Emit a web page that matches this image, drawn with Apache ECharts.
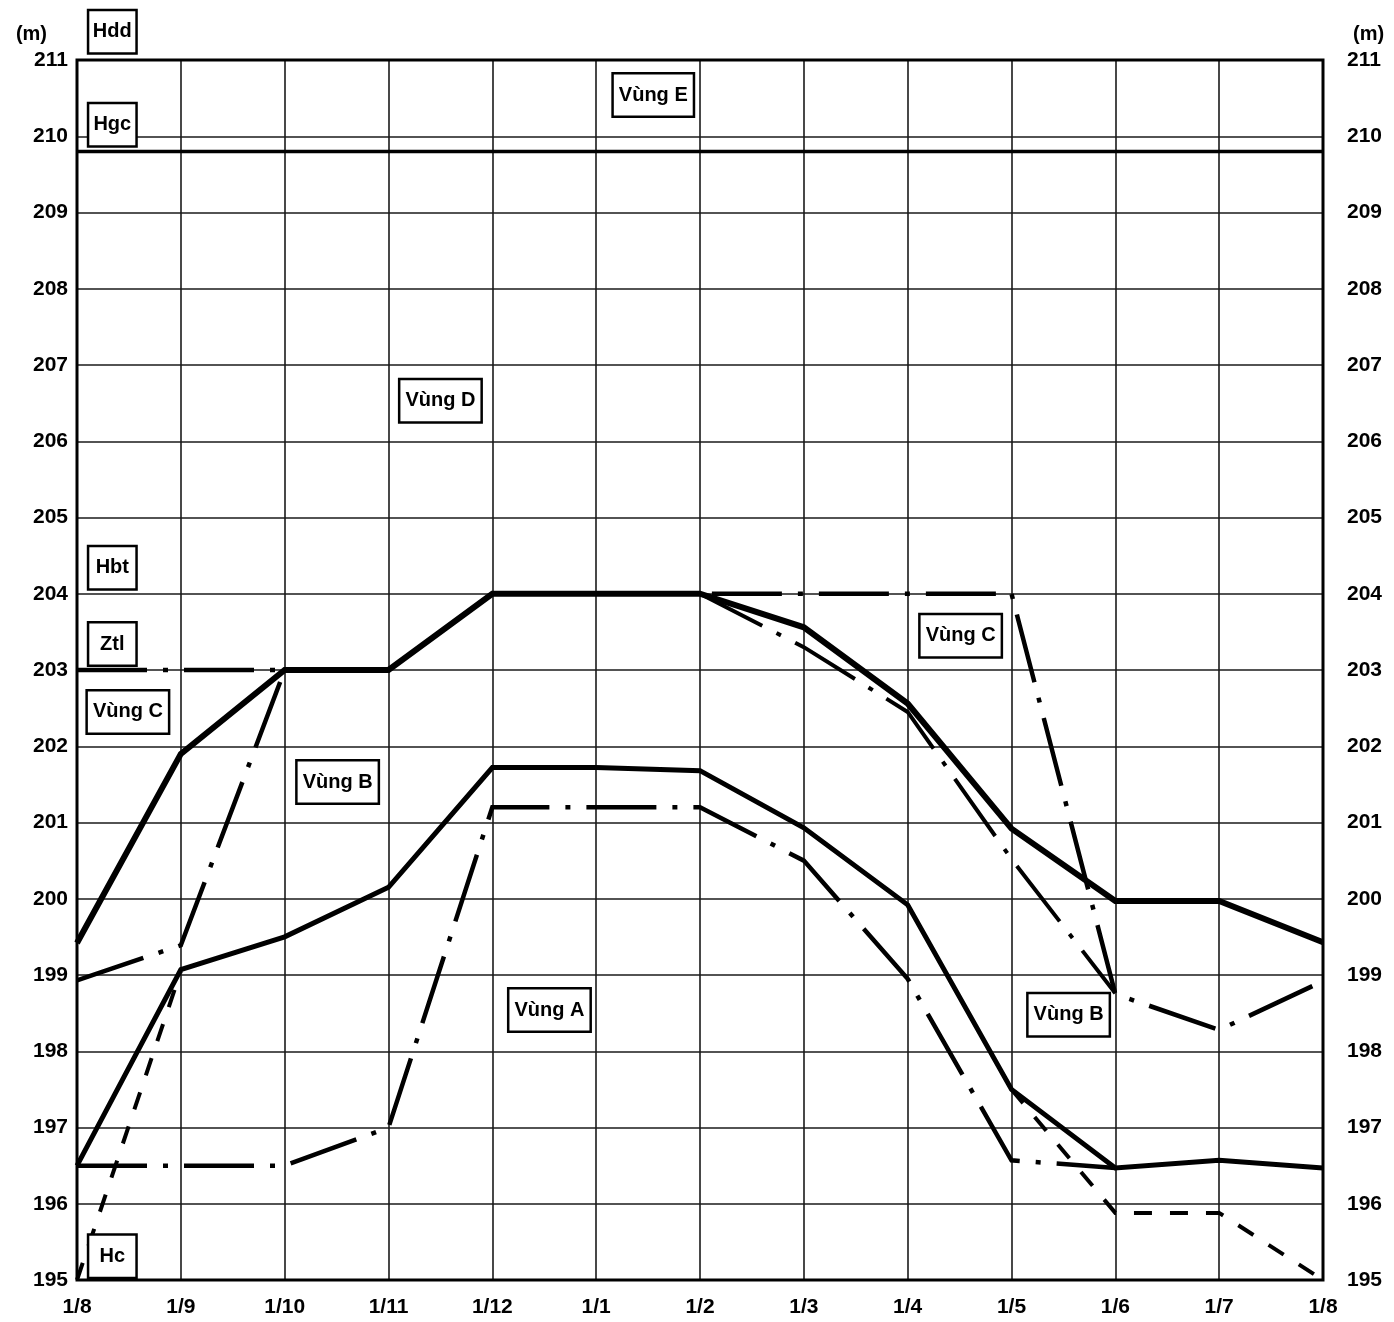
<!DOCTYPE html>
<html>
<head>
<meta charset="utf-8">
<script src="https://cdn.jsdelivr.net/npm/echarts@6/dist/echarts.min.js"></script>
<style>
html,body{margin:0;padding:0;background:#fff;}
#chart{width:1394px;height:1322px;}
</style>
</head>
<body>
<div id="chart"></div>
<script>
// ---- data ----
var xLabels = ['1/8','1/9','1/10','1/11','1/12','1/1','1/2','1/3','1/4','1/5','1/6','1/7','1/8'];
var upperSolid   = [199.42, 201.9, 203.0, 203.0, 204.0, 204.0, 204.0, 203.56, 202.56, 200.92, 199.97, 199.97, 199.43];
var upperDashDot = [198.93, 199.39, 203.0, 203.0, 204.0, 204.0, 204.0, 204.0, 204.0, 204.0, 198.75, 198.28, 198.92];
var ztlDashDot   = [203.0, 203.0, 203.0, null, null, null, null, null, null, null, null, null, null];
var middleDashDot = [null, null, null, null, null, null, 204.0, 203.3, 202.45, 200.52, 198.76, null, null];
var lowerSolid   = [196.5, 199.07, 199.5, 200.15, 201.72, 201.72, 201.68, 200.93, 199.92, 197.5, 196.47, 196.57, 196.47];
var lowerDashDot = [196.5, 196.5, 196.5, 197.0, 201.2, 201.2, 201.2, 200.5, 198.95, 196.57, 196.47, null, null];
var dashedLine   = [195.0, 199.05, null, null, null, null, null, null, null, 197.5, 195.88, 195.88, 195.0];
var hgcLevel     = [209.8, 209.8, 209.8, 209.8, 209.8, 209.8, 209.8, 209.8, 209.8, 209.8, 209.8, 209.8, 209.8];
var yTicks = {min: 195, max: 211, step: 1};
var annotationText = ['Hdd', 'Hgc', 'Vùng E', 'Vùng D', 'Hbt', 'Ztl', 'Vùng C', 'Vùng B', 'Vùng A', 'Vùng C', 'Vùng B', 'Hc'];
var annotationX    = [0.34, 0.34, 5.55, 3.50, 0.34, 0.34, 0.49, 2.51, 4.55, 8.51, 9.55, 0.34];
var annotationY    = [211.37, 210.15, 210.54, 206.53, 204.34, 203.34, 202.45, 201.53, 198.54, 203.45, 198.48, 195.31];

// ---- chart ----
var FONT = 'Liberation Sans';
function withX(arr){ return arr.map(function(v,i){ return [i, v]; }); }

var dashDot = [70, 16, 5, 16];

function lineSeries(data, width, type, z){
  return {
    type: 'line', data: withX(data), symbol: 'none', silent: true,
    connectNulls: false, z: z || 3,
    lineStyle: {color: '#000', width: width, type: type, cap: 'butt', join: 'miter'}
  };
}

var chart = echarts.init(document.getElementById('chart'), null, {renderer: 'canvas'});
var option = {
  animation: false,
  backgroundColor: '#fff',
  grid: {left: 77, right: 71, top: 60, bottom: 42, show: true, borderColor: '#000', borderWidth: 3, backgroundColor: 'transparent', z: 4},
  xAxis: {
    type: 'value', min: 0, max: 12, interval: 1,
    axisLine: {show: false}, axisTick: {show: false},
    splitLine: {show: true, lineStyle: {color: '#1a1a1a', width: 1.6}},
    axisLabel: {
      margin: 17, color: '#000', fontFamily: FONT, fontWeight: 'bold', fontSize: 21,
      formatter: function(v){ return xLabels[v] || ''; }
    }
  },
  yAxis: [{
    type: 'value', min: yTicks.min, max: yTicks.max, interval: yTicks.step, position: 'left',
    name: '(m)', nameLocation: 'end', nameGap: 16,
    nameTextStyle: {color: '#000', fontFamily: FONT, fontWeight: 'bold', fontSize: 20, align: 'right', padding: [0, 30, 0, 0]},
    axisLine: {show: false}, axisTick: {show: false},
    splitLine: {show: true, lineStyle: {color: '#1a1a1a', width: 1.6}},
    axisLabel: {margin: 9, color: '#000', fontFamily: FONT, fontWeight: 'bold', fontSize: 21}
  }, {
    type: 'value', min: yTicks.min, max: yTicks.max, interval: yTicks.step, position: 'right',
    name: '(m)', nameLocation: 'end', nameGap: 16,
    nameTextStyle: {color: '#000', fontFamily: FONT, fontWeight: 'bold', fontSize: 20, align: 'left', padding: [0, 0, 0, 30]},
    axisLine: {show: false}, axisTick: {show: false}, splitLine: {show: false},
    axisLabel: {margin: 24, color: '#000', fontFamily: FONT, fontWeight: 'bold', fontSize: 21}
  }],
  series: [
    lineSeries(hgcLevel, 3.5, 'solid', 3),
    lineSeries(dashedLine, 4, [18, 18], 3),
    lineSeries(ztlDashDot, 4.5, dashDot, 3),
    lineSeries(upperDashDot, 4.5, dashDot, 3),
    lineSeries(middleDashDot, 4, dashDot, 3),
    lineSeries(lowerDashDot, 4.5, dashDot, 3),
    lineSeries(lowerSolid, 5, 'solid', 5),
    lineSeries(upperSolid, 6, 'solid', 5),
    {
      type: 'scatter', clip: false, silent: true, z: 10, symbolSize: 2,
      itemStyle: {color: 'rgba(255,255,255,0)'},
      emphasis: {disabled: true},
      data: annotationText.map(function(t, i){
        var item = {value: [annotationX[i], annotationY[i]], name: t};
        if (t.length <= 3) { item.label = {width: 36, align: 'center'}; }
        return item;
      }),
      label: {
        show: true, position: 'inside', color: '#000', opacity: 1,
        textBorderWidth: 0, textBorderColor: 'transparent', textShadowBlur: 0,
        formatter: function(p){ return p.name; },
        fontFamily: FONT, fontWeight: 'bold', fontSize: 20,
        backgroundColor: '#fff', borderColor: '#000', borderWidth: 2.5,
        shadowBlur: 0, shadowColor: 'transparent',
        padding: [11, 5, 10, 5]
      }
    }
  ]
};
chart.setOption(option);
</script>
</body>
</html>
